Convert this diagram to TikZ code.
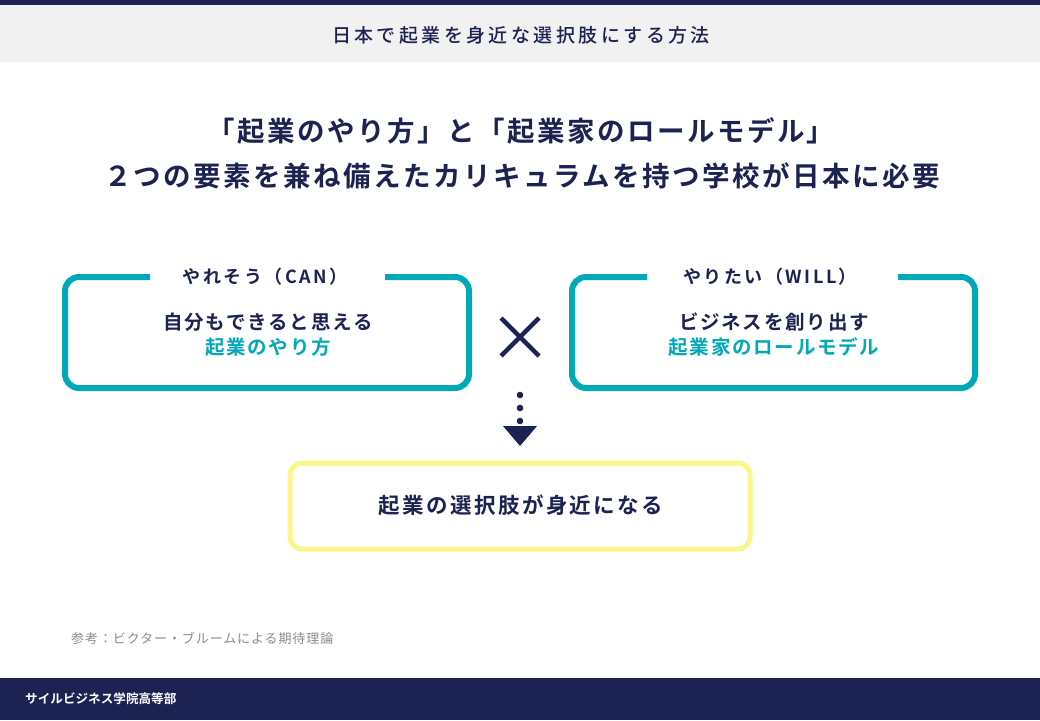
\documentclass[tikz,border=0pt]{standalone}
\usepackage{fontspec}
\usetikzlibrary{calc}
\setmainfont{Noto Sans CJK JP}[BoldFont={Noto Sans CJK JP Bold}]
\newfontfamily\medfont{Noto Sans CJK JP Medium}
\definecolor{navy}{HTML}{1C2251}
\definecolor{teal}{HTML}{00A9B8}
\definecolor{yel}{HTML}{F9F78C}
\definecolor{hdr}{HTML}{F1F1F1}
\definecolor{note}{HTML}{8A8A8A}
\newcommand{\ls}[1]{\addfontfeature{LetterSpace=#1}}
\tikzset{
  card/.style={draw=teal, line width=6pt, rounded corners=14pt},
  lbl/.style={font=\bfseries\fontsize{18}{20}\selectfont\ls{14}, text=navy, fill=white, inner sep=0pt},
  body/.style={font=\bfseries\fontsize{19.5}{25}\selectfont\ls{9}, text=navy, align=center},
  head/.style={font=\bfseries\fontsize{27.5}{45}\selectfont\ls{9}, text=navy, align=center},
}
\begin{document}
\begin{tikzpicture}[x=1pt,y=-1pt]
\useasboundingbox (0,0) rectangle (1040,720);
\fill[navy] (0,0) rectangle (1040,5);
\fill[hdr] (0,5) rectangle (1040,62);
\node[font=\medfont\fontsize{19}{20}\selectfont\ls{18}, text=navy] (title) at (521,35) {日本で起業を身近な選択肢にする方法};
\node[head] (h1) at (521,131) {「起業のやり方」と「起業家のロールモデル」};
\node[head] (h2) at (522,176) {２つの要素を兼ね備えたカリキュラムを持つ学校が日本に必要};
% left card
\draw[card] (150,277) -- (65,277) -- (65,388) -- (469,388) -- (469,277) -- (385,277);
\node[lbl] (l1) at (265,277) {やれそう（CAN）};
\node[body] (lt) at (268,335) {自分もできると思える\\\textcolor{teal}{起業のやり方}};
% right card
\draw[card] (647,277) -- (572,277) -- (572,388) -- (975,388) -- (975,277) -- (898,277);
\node[lbl] (r1) at (770,277) {やりたい（WILL）};
\node[body] (rt) at (774,335) {ビジネスを創り出す\\\textcolor{teal}{起業家のロールモデル}};
% cross
\coordinate (x) at (520,337);
\draw[navy, line width=4.5pt] ($(x)+(-19,-19)$) -- ($(x)+(19,19)$) ($(x)+(-19,19)$) -- ($(x)+(19,-19)$);
% dots and arrow
\foreach \yy in {395,408,421} \fill[navy] (520,\yy) circle (3.3);
\fill[navy] (503,426) -- (537,426) -- (520,446) -- cycle;
% result
\draw[draw=yel, line width=5pt, rounded corners=12pt] (290,463) rectangle (750,549);
\node[font=\bfseries\fontsize{21.5}{24}\selectfont\ls{11}, text=navy] (res) at (521,505) {起業の選択肢が身近になる};
% note
\node[font=\fontsize{13}{15}\selectfont\ls{7}, text=note, anchor=west, inner sep=0pt] (nt) at (71,638) {参考：ビクター・ブルームによる期待理論};
\fill[navy] (0,678) rectangle (1040,720);
\node[font=\bfseries\fontsize{12.6}{15}\selectfont, text=white, anchor=west, inner sep=0pt] (ft) at (25,699) {サイルビジネス学院高等部};
\end{tikzpicture}
\end{document}
